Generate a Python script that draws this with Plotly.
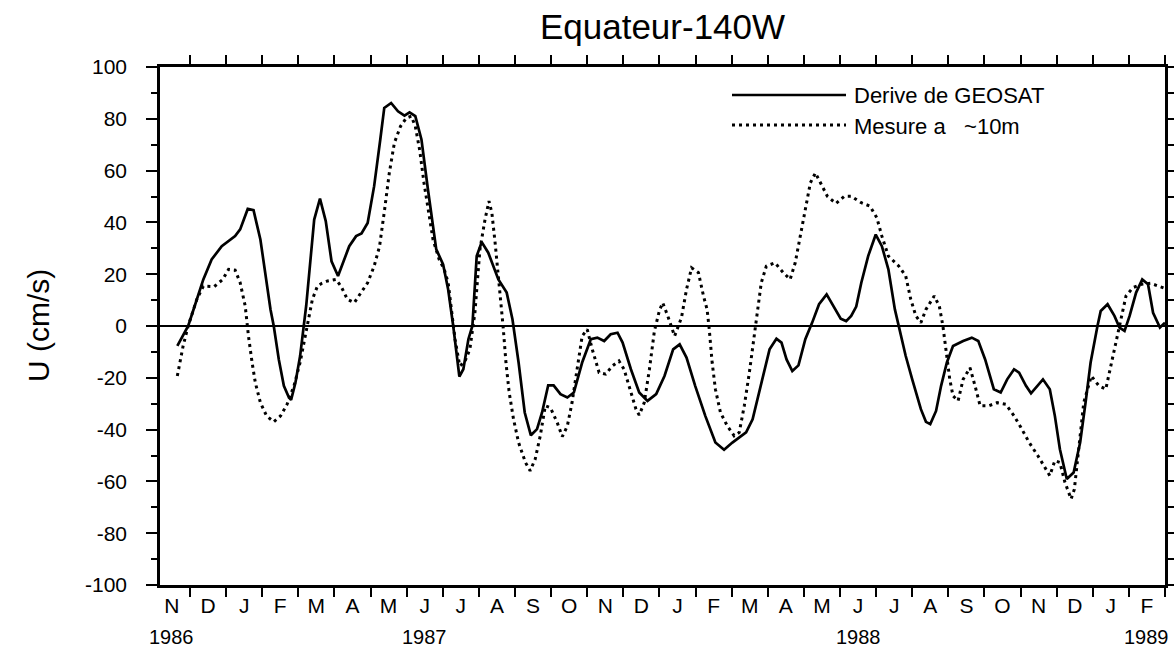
import plotly.graph_objects as go

# ---- data (time in months since 1 Dec 1986, velocity in cm/s) ----
geosat_t = [-0.35, -0.05, 0.09, 0.37, 0.6, 0.88, 1.25, 1.39, 1.6, 1.76, 1.95, 2.23, 2.32, 2.46, 2.6, 2.74, 2.8,
            2.92, 3.05, 3.14, 3.22, 3.44, 3.6, 3.76, 3.92, 4.1, 4.41, 4.6, 4.75, 4.92, 5.1, 5.27, 5.38, 5.57,
            5.76, 5.94, 6.08, 6.24, 6.41, 6.59, 6.82, 7.01, 7.15, 7.29, 7.38, 7.46, 7.57, 7.71, 7.82, 7.94,
            8.08, 8.26, 8.54, 8.77, 8.93, 9.1, 9.27, 9.44, 9.61, 9.75, 9.92, 10.07, 10.26, 10.45, 10.63,
            10.86, 11.1, 11.28, 11.47, 11.65, 11.84, 11.98, 12.21, 12.44, 12.67, 12.91, 13.14, 13.38, 13.56,
            13.75, 13.99, 14.27, 14.55, 14.79, 15.02, 15.4, 15.58, 15.82, 16.05, 16.24, 16.38, 16.52, 16.68,
            16.85, 17.04, 17.23, 17.42, 17.63, 17.84, 18.02, 18.17, 18.31, 18.45, 18.59, 18.78, 18.99, 19.16,
            19.34, 19.52, 19.63, 19.82, 20.0, 20.24, 20.38, 20.5, 20.66, 20.8, 20.96, 21.13, 21.41, 21.65,
            21.83, 22.02, 22.26, 22.45, 22.63, 22.82, 22.96, 23.15, 23.29, 23.46, 23.62, 23.81, 23.95, 24.09,
            24.28, 24.47, 24.65, 24.8, 24.94, 25.13, 25.22, 25.41, 25.6, 25.74, 25.88, 26.02, 26.2, 26.37,
            26.53, 26.67, 26.86, 27.0]
geosat_u = [-7.7, 0, 6, 18, 25.7, 30.8, 34.7, 37.3, 45.2, 44.7, 33.4, 6.4, 0, -12.9, -23.1, -27.6, -28.5,
            -21.9, -11.6, 0, 8, 41.1, 49.2, 40.5, 25, 19.3, 30.8, 34.7, 35.7, 39.8, 54, 72, 84.2, 86.1,
            82.9, 81.2, 82.5, 81, 72, 52.7, 29.6, 23.8, 14.1, 0, -11.6, -19.5, -16.7, -5.1, 0, 27,
            32.4, 28.3, 18, 12.9, 2.6, -14.1, -33.4, -42.2, -39.8, -33.4, -22.9, -22.9, -26.3, -27.6, -25.7,
            -14.1, -5.1, -4.5, -5.8, -3.2, -2.6, -6.4, -16.7, -25.7, -28.9, -26.3, -19.3, -9, -7.1,
            -12.2, -23.1, -34.7, -45, -47.8, -45, -41.1, -36, -21.9, -9, -4.9, -6.4, -12.9, -17.4,
            -15.2, -5.1, 1.3, 8.4, 12.2, 7.1, 2.8, 1.9, 3.9, 7.5, 16.7, 27, 35.3, 30.8,
            21.9, 6.4, 0, -11.6, -20.6, -32.1, -37, -37.9, -32.8, -23.1, -14.1, -7.7, -5.8, -4.5,
            -5.8, -12.9, -24.4, -25.7, -20.6, -16.7, -18, -23.1, -26, -23.1, -20.6, -24.4, -34.7, -47.6,
            -59.1, -56.6, -45, -29.6, -14.1, 0, 5.8, 8.4, 3.9, -0.6, -1.9, 3.9, 12.9, 18,
            16.1, 5.1, -0.6, 1.3]

mesure_t = [-0.35, -0.19, -0.05, 0.19, 0.37, 0.67, 0.91, 1.07, 1.25, 1.39, 1.53, 1.62, 1.72, 1.81, 1.95, 2.12,
            2.32, 2.51, 2.69, 2.88, 3.05, 3.16, 3.25, 3.39, 3.53, 3.65, 3.81, 4.04, 4.18, 4.36, 4.55, 4.74,
            4.92, 5.1, 5.25, 5.39, 5.52, 5.66, 5.83, 5.99, 6.13, 6.24, 6.36, 6.48, 6.59, 6.73, 6.9, 7.04,
            7.15, 7.22, 7.34, 7.47, 7.6, 7.75, 7.89, 8.03, 8.17, 8.28, 8.36, 8.45, 8.54, 8.62, 8.67, 8.75,
            8.84, 8.96, 9.1, 9.29, 9.42, 9.56, 9.7, 9.84, 9.98, 10.17, 10.31, 10.45, 10.58, 10.72, 10.86,
            11.0, 11.14, 11.33, 11.51, 11.7, 11.88, 12.02, 12.21, 12.35, 12.44, 12.58, 12.72, 12.86, 13.0,
            13.09, 13.23, 13.42, 13.61, 13.75, 13.89, 14.08, 14.22, 14.32, 14.38, 14.46, 14.55, 14.69, 14.88,
            15.07, 15.21, 15.35, 15.49, 15.63, 15.73, 15.82, 15.96, 16.2, 16.43, 16.62, 16.76, 16.9, 17.04,
            17.18, 17.32, 17.46, 17.65, 17.89, 18.12, 18.31, 18.59, 18.83, 19.02, 19.16, 19.34, 19.63,
            19.82, 19.96, 20.05, 20.1, 20.24, 20.38, 20.61, 20.75, 20.85, 20.94, 21.04, 21.13, 21.27, 21.41,
            21.6, 21.74, 21.88, 22.12, 22.35, 22.59, 22.82, 23.01, 23.24, 23.48, 23.67, 23.81, 23.95, 24.09,
            24.23, 24.4, 24.49, 24.61, 24.75, 24.96, 25.17, 25.36, 25.5, 25.64, 25.79, 25.92, 26.11, 26.35,
            26.6, 27.0]
mesure_u = [-19.3, -7.7, 0, 10.3, 15.4, 15.2, 18, 21.9, 21.6, 16.7, 7.7, -3.9, -14.1, -21.9, -29.6, -34.7,
            -37, -34.7, -30.2, -23.1, -14.1, -6.4, 0, 10.3, 15.4, 16.5, 17.4, 18, 15.4, 10.3, 9, 12.9,
            16.7, 23.1, 30.8, 45, 59.1, 70.7, 77.1, 80.3, 81, 77.1, 68, 55.3, 45, 33.4, 25.7, 21.9,
            16.7, 7.7, -5.1, -15.4, -14.1, -9, 5.1, 29.6, 41.1, 48.2, 43.7, 32.1, 19.3, 7.7, 0, -14.1,
            -25.7, -36, -45, -52.7, -55.9, -51.4, -42.4, -30.8, -31.5, -37.3, -42.7, -38.6, -29.6, -16.7, -3.9,
            -1.3, -9, -18, -18.6, -15.4, -13.5, -16.7, -25.7, -32.1, -34.4, -29.6, -17, -2, 6,
            9, 3.9, -3.9, 3.2, 14.1, 22.5, 20.6, 11.6, 6.4, -1.3, -14.1, -24.4, -33.4, -38.6,
            -42.4, -41.1, -30.8, -18, -2.6, 6.4, 16.7, 23.1, 24.4, 20.6, 18, 24.4, 34.7, 46.3,
            55.3, 59.1, 55.3, 50.1, 47.3, 50.1, 50.1, 47.6, 46.3, 41.8, 34.7, 27, 23.1,
            19.3, 10.3, 6.4, 3.9, 1.3, 6.4, 11.6, 7.7, 0, -9, -20.6, -27, -28.9, -20.6,
            -16.1, -23.1, -30.8, -30.8, -29.6, -30.2, -34.7, -39.2, -45, -50.1, -54.6, -57.8, -52, -52.7,
            -60.4, -66.8, -63, -47.6, -29.6, -19.3, -23.1, -24.4, -15.4, -5.1, 3.9, 11.6, 14.8, 16.1,
            16.5, 14.5]

month_letters = ["N", "D", "J", "F", "M", "A", "M", "J", "J", "A", "S", "O", "N", "D",
                 "J", "F", "M", "A", "M", "J", "J", "A", "S", "O", "N", "D", "J", "F"]
month_centers = [k + 0.5 for k in range(-1, 27)]
month_starts = list(range(0, 28))
year_labels = ["1986", "1987", "1988", "1989"]
year_pos = [-0.5, 6.5, 18.5, 26.5]
y_ticks = list(range(-100, 101, 20))
y_tick_labels = ["-100", "-80", "-60", "-40", "-20", "0", "20", "40", "60", "80", "100"]

series_names = ["Derive de GEOSAT", "Mesure a\u00a0\u00a0\u00a0~10m"]

FONT = "Liberation Sans, Arial, Helvetica, sans-serif"
W, H = 1174, 650
PLOT_L, PLOT_R, PLOT_T, PLOT_B = 160, 1165, 67, 585
L, R, T, B = PLOT_L, W - PLOT_R, PLOT_T, H - PLOT_B
PW, PH = PLOT_R - PLOT_L, PLOT_B - PLOT_T


def px_x(px):
    return (px - PLOT_L) / PW


def px_y(py):
    return (PLOT_B - py) / PH


fig = go.Figure()
fig.add_trace(go.Scatter(x=mesure_t, y=mesure_u, mode="lines", name=series_names[1],
                         line=dict(color="black", width=3, dash="3px,4px"), showlegend=False))
fig.add_trace(go.Scatter(x=geosat_t, y=geosat_u, mode="lines", name=series_names[0],
                         line=dict(color="black", width=2.7), showlegend=False))

annotations = []
for lab, pos in zip(year_labels, year_pos):
    annotations.append(dict(x=pos, y=px_y(637), xref="x", yref="paper", text=lab, showarrow=False,
                            xanchor="center", yanchor="middle", font=dict(family=FONT, size=20, color="black")))
annotations.append(dict(x=px_x(38), y=0.5, xref="paper", yref="paper", text="U (cm/s)", textangle=-90,
                        showarrow=False, xanchor="center", yanchor="middle",
                        font=dict(family=FONT, size=30, color="black")))
annotations.append(dict(x=px_x(852), y=px_y(95), xref="paper", yref="paper", text=series_names[0],
                        showarrow=False, xanchor="left", yanchor="middle",
                        font=dict(family=FONT, size=22, color="black")))
annotations.append(dict(x=px_x(852), y=px_y(126), xref="paper", yref="paper", text=series_names[1],
                        showarrow=False, xanchor="left", yanchor="middle",
                        font=dict(family=FONT, size=22, color="black")))

shapes = [
    dict(type="line", xref="paper", yref="paper", x0=px_x(732), x1=px_x(846), y0=px_y(95), y1=px_y(95),
         line=dict(color="black", width=2.7)),
    dict(type="line", xref="paper", yref="paper", x0=px_x(732), x1=px_x(846), y0=px_y(125), y1=px_y(125),
         line=dict(color="black", width=3, dash="3px,4px")),
]

fig.update_layout(
    width=W, height=H,
    margin=dict(l=L, r=R, t=T, b=B, pad=0),
    paper_bgcolor="white", plot_bgcolor="white",
    showlegend=False,
    title=dict(text="Equateur-140W", x=(PLOT_L + PW / 2) / W, xanchor="center", xref="container",
               y=1 - 27 / H, yanchor="middle", yref="container",
               font=dict(family=FONT, size=35, color="black")),
    xaxis=dict(range=[-0.83, 27.0], tickmode="array", tickvals=month_centers, ticktext=month_letters,
               ticks="", showline=True, linecolor="black", linewidth=2.5, mirror="ticks",
               showgrid=False, zeroline=False, automargin=False, ticklabelstandoff=0,
               tickfont=dict(family=FONT, size=21, color="black"),
               minor=dict(tickmode="array", tickvals=month_starts, ticks="outside", ticklen=9,
                          tickwidth=2, tickcolor="black", showgrid=False)),
    yaxis=dict(range=[-100, 100], tickmode="array", tickvals=y_ticks, ticktext=y_tick_labels,
               ticks="outside", ticklen=11,
               tickwidth=2, tickcolor="black", showline=True, linecolor="black", linewidth=2.5,
               mirror="ticks", showgrid=False, zeroline=True, zerolinecolor="black", zerolinewidth=2,
               automargin=False, ticklabelstandoff=15,
               tickfont=dict(family=FONT, size=21, color="black"),
               minor=dict(tick0=0, dtick=10, ticks="outside", ticklen=6, tickwidth=2,
                          tickcolor="black", showgrid=False)),
    annotations=annotations,
    shapes=shapes,
)

# remove the default 8px page margin so the 1174x650 figure fills the window exactly
fig.write_html("out.html", config={"displayModeBar": False},
               post_script="document.body.style.margin='0px'; document.body.style.overflow='hidden';")
